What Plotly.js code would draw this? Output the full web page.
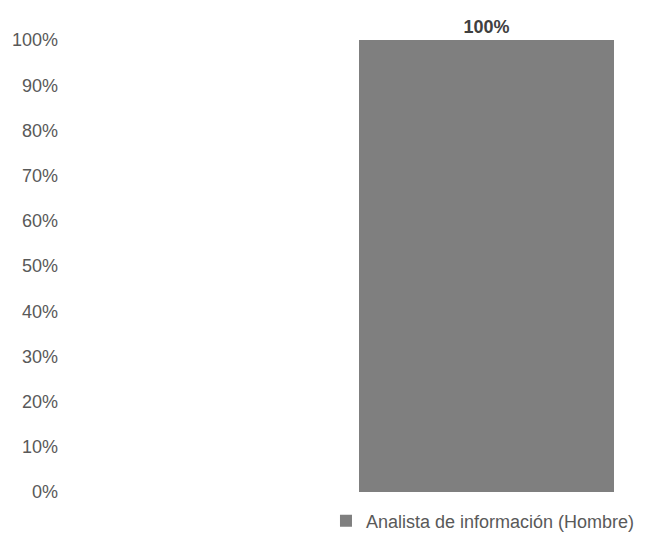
<!DOCTYPE html>
<html>
<head>
<meta charset="utf-8">
<script src="https://cdn.plot.ly/plotly-3.0.1.min.js"></script>
<style>html,body{margin:0;padding:0;background:#fff;}#chart{width:645px;height:534px;}</style>
</head>
<body>
<div id="chart"></div>
<script>
const categories = ["Analista de información (Hombre)"];
const values = [1.0];
const valueLabels = ["100%"];
const seriesName = "Analista de información (Hombre)";
const yTickVals = [0,0.1,0.2,0.3,0.4,0.5,0.6,0.7,0.8,0.9,1.0];
const yTickText = ["0%","10%","20%","30%","40%","50%","60%","70%","80%","90%","100%"];

const FONT = "'Liberation Sans', Arial, sans-serif";

const trace = {
  type: 'bar',
  x: categories,
  y: values,
  name: seriesName,
  width: 0.6,
  marker: {color: '#7f7f7f'},
  text: valueLabels,
  textposition: 'outside',
  cliponaxis: false,
  textfont: {family: FONT, size: 18, color: '#404040', weight: 'bold'},
  showlegend: true,
  hoverinfo: 'none'
};

const layout = {
  width: 645, height: 534,
  margin: {l: 62, r: 5, t: 40, b: 42, autoexpand: false},
  paper_bgcolor: '#fff', plot_bgcolor: '#fff',
  font: {family: FONT, size: 18, color: '#595959'},
  bargap: 0,
  xaxis: {
    type: 'category',
    range: [-0.9988, 0.3612],
    showticklabels: false, showgrid: false, zeroline: false, showline: false, ticks: ''
  },
  yaxis: {
    range: [0, 1],
    tickvals: yTickVals, ticktext: yTickText,
    showgrid: false, zeroline: false, showline: false, ticks: '',
    ticklabelstandoff: 3,
    tickfont: {family: FONT, size: 18, color: '#595959'}
  },
  showlegend: true,
  legend: {
    orientation: 'h',
    xref: 'container', yref: 'container',
    x: 0.5054, xanchor: 'left', y: 0.0243, yanchor: 'middle',
    font: {family: FONT, size: 18, color: '#595959'},
    itemwidth: 30
  }
};

Plotly.newPlot('chart', [trace], layout, {displayModeBar: false, staticPlot: true});
</script>
</body>
</html>
